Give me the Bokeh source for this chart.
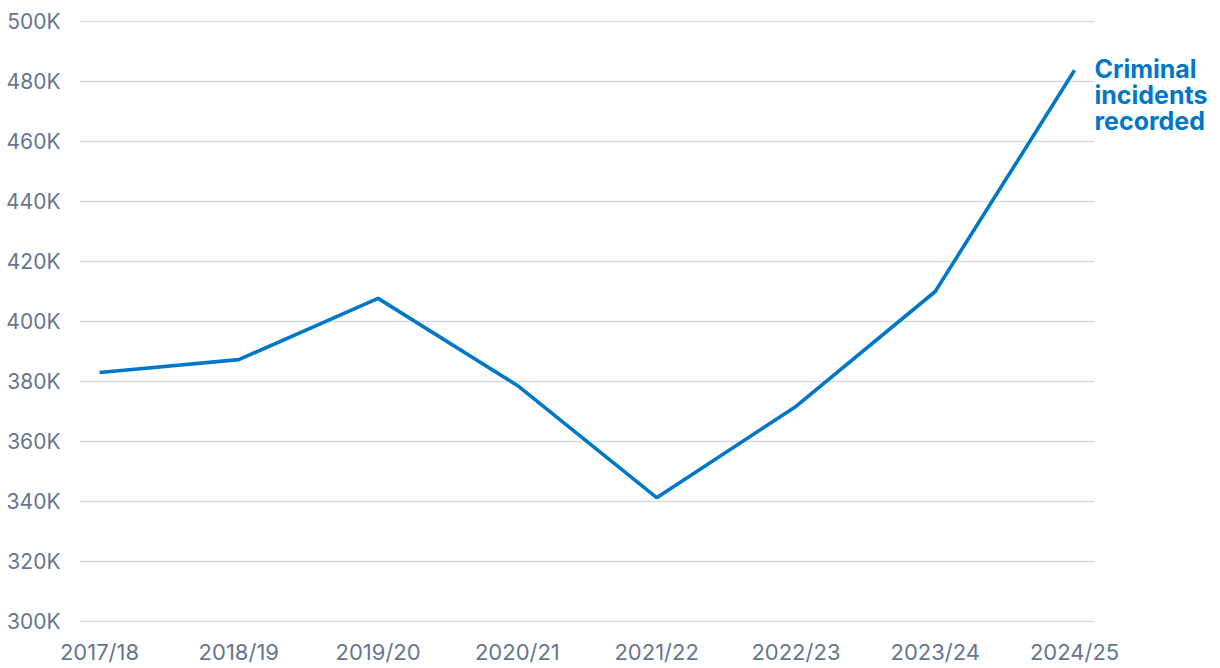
from bokeh.plotting import figure
from bokeh.models import FixedTicker, Range1d, ColumnDataSource
from bokeh.core.properties import value
from bokeh.embed import file_html
from bokeh.resources import INLINE

years = ["2017/18", "2018/19", "2019/20", "2020/21", "2021/22", "2022/23", "2023/24", "2024/25"]
incidents = [383000, 387300, 407700, 378700, 341300, 371700, 410000, 483700]
y_ticks = [300000, 320000, 340000, 360000, 380000, 400000, 420000, 440000, 460000, 480000, 500000]
series_label = "Criminal\nincidents\nrecorded"

FONT = "Inter"
BLUE = "#0077c8"
TICK = "#66768f"
GRID = "#d5dae2"

xs = list(range(len(years)))
pad = 0.1436            # grid extends a little past first/last category
unit_px = 139.29        # pixel width of one category step
frame_w = 1220 - 79
x_end = -pad + frame_w / unit_px

p = figure(width=1220, height=668, output_backend="svg", toolbar_location=None,
           x_range=Range1d(-pad, x_end),
           y_range=Range1d(299700, 500300),
           min_border_left=79, min_border_right=0, min_border_top=20, min_border_bottom=46)
p.outline_line_color = None
p.background_fill_color = "white"
p.border_fill_color = "white"

p.xgrid.grid_line_color = None
p.ygrid.grid_line_color = None

# horizontal grid lines limited to the category span
p.segment(x0=[-pad] * len(y_ticks), x1=[xs[-1] + pad] * len(y_ticks), y0=y_ticks, y1=y_ticks,
          line_color=GRID, line_width=1.5)

p.yaxis.ticker = FixedTicker(ticks=y_ticks)
p.yaxis.major_label_overrides = {t: f"{t // 1000}K" for t in y_ticks}
p.xaxis.ticker = FixedTicker(ticks=xs)
p.xaxis.major_label_overrides = {i: y for i, y in enumerate(years)}

for ax in (p.xaxis[0], p.yaxis[0]):
    ax.axis_line_color = None
    ax.major_tick_line_color = None
    ax.minor_tick_line_color = None
    ax.major_label_text_font = FONT
    ax.major_label_text_color = TICK
p.yaxis.major_label_text_font_size = "21px"
p.xaxis.major_label_text_font_size = "22px"
p.yaxis.major_label_standoff = 13
p.xaxis.major_label_standoff = 10

src = ColumnDataSource(dict(x=xs, y=incidents))
p.line("x", "y", source=src, line_color=BLUE, line_width=3.6)

p.text(x=[xs[-1]], y=[incidents[-1]], text=[series_label], x_offset=20, y_offset=-16,
       text_font=value(FONT), text_font_size="25px", text_font_style="bold",
       text_color=BLUE, text_baseline="top", text_align="left", text_line_height=0.86)

open("out.html", "w").write(file_html(p, INLINE))
